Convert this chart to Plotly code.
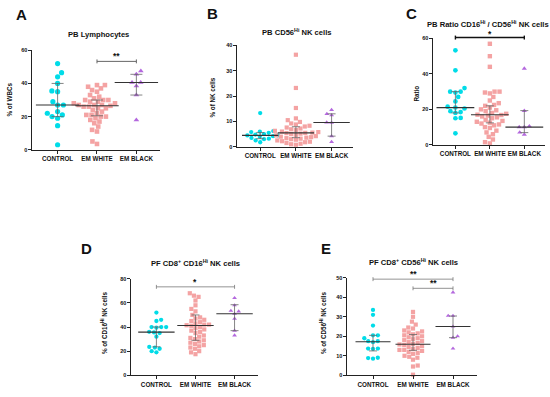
import numpy as np
import plotly.graph_objects as go

W, H = 550, 397
GROUPS = ["CONTROL", "EM WHITE", "EM BLACK"]
COLORS = ["#00DCE8", "#F4A3A3", "#B468DE"]
SYMBOLS = ["circle", "square", "triangle-up"]

# ---------------- data ----------------
# Panel A  PB Lymphocytes (% of WBCs)
a_control = [52, 46.5, 44, 40, 35.5, 35, 29, 27, 27, 23, 22, 21, 20, 19, 14.5, 3]
a_white = [39, 39, 38, 37, 36, 35, 33, 32, 31, 30, 30, 30, 29, 29, 28, 28, 27, 27, 27,
           26.5, 26, 26, 25, 25, 24, 23, 22, 21, 21, 20, 20, 19, 18, 17, 16, 14, 12, 11, 5, 3.5]
a_black = [47.5, 45.5, 40.6, 40.6, 38.5, 33, 18]
a_median = [27, 26.5, 40.6]
a_q1 = [20, 20.5, 33]
a_q3 = [40, 30, 45.5]

# Panel B  PB CD56Hi NK cells (% of NK cells)
b_control = [13.3, 6.2, 6, 5.8, 5.5, 5, 4.8, 4.5, 4.5, 4.2, 4, 3.5, 3.2, 3, 2.5, 1.8]
b_white = [36.3, 23.2, 15.3, 11.2, 10.5, 9.8, 9.2, 8.8, 8.3, 8, 7.6, 7.2, 6.9, 6.6, 6.3, 6,
           5.8, 5.6, 5.5, 5.4, 5.2, 5, 4.7, 4.5, 4.2, 4, 3.8, 3.6, 3.4, 3.2, 3, 2.8, 2.5,
           2.2, 2, 1.8, 1.5, 1.2, 1, 0.8]
b_black = [14.5, 13, 12.5, 9.6, 9.5, 4.2, 1.9]
b_median = [4.5, 5.5, 9.6]
b_q1 = [3.2, 3.6, 4.2]
b_q3 = [5.6, 7.9, 13]

# Panel C  PB Ratio CD16Hi / CD56Hi NK cells
c_control = [53.3, 42, 32, 30, 30, 29.5, 27, 24.5, 21.5, 21, 20.5, 19, 18.5, 18, 15.2, 15, 6.5]
c_white = [57, 50, 44, 30, 30, 29.5, 29, 27, 25, 23.5, 22.5, 22, 21, 20, 19.5, 19, 18, 17.5,
           17, 16.8, 16.5, 16, 15.5, 15, 14, 13.5, 13, 12.5, 12, 11.5, 11, 10, 9.5, 8, 7, 6,
           4.5, 3, 1.5, 0.8]
c_black = [43, 19.2, 10.5, 10, 10, 7, 5.8]
c_median = [21, 17, 10]
c_q1 = [18, 12.4, 6.9]
c_q3 = [30, 22, 19.3]

# Panel D  PF CD8+ CD16Hi NK cells (% of CD16Hi NK cells)
d_control = [52, 46, 45, 40, 40, 40, 39.5, 36, 35.5, 35, 32, 23.5, 23, 22, 20, 19]
d_white = [68, 66, 65, 62, 58, 55, 53, 50, 48, 47, 46, 45, 44, 43, 42, 42, 41.5, 41, 40, 39,
           38, 37, 36, 35, 33, 32, 31, 30, 29, 28, 27, 26, 25, 24, 23, 22, 20, 19, 17.5]
d_black = [64, 58, 53.5, 53, 51, 47, 37, 33]
d_median = [35.8, 41.3, 51]
d_q1 = [23.6, 29, 37]
d_q3 = [40, 50, 58.5]

# Panel E  PF CD8+ CD56Hi NK cells (% of CD56Hi NK cells)
e_control = [33.5, 31, 25.5, 20.5, 20.5, 19, 17.5, 17.5, 17, 13.7, 13.7, 13.5, 9, 8.8, 8.5]
e_white = [32.5, 30, 27.5, 26, 24.5, 24, 23, 22.5, 22, 21.5, 21, 20.5, 20, 19.5, 19, 18.5,
           18, 17.5, 17, 16.5, 16, 15.8, 15.5, 15, 14.5, 14, 13.5, 13, 13, 12.5, 12, 11.5,
           11, 10, 9.5, 9, 8, 5, 4.5, 0.3]
e_black = [42.5, 30.5, 30.5, 25, 20, 19.3, 13.7]
e_median = [17.2, 15.9, 25]
e_q1 = [12.5, 12.8, 19.3]
e_q3 = [20.5, 20.9, 30.4]

# ---------------- layout of panels (pixel boxes) ----------------
XR = [-0.65, 2.6]
panels = [
    dict(letter="A", series=[a_control, a_white, a_black], med=a_median, q1=a_q1, q3=a_q3,
         box=(32, 160, 48, 149), yr=60, ticks=[0, 20, 40, 60], msize=[5.2, 4.6, 5.0],
         title="PB Lymphocytes", tpos=(98, 32), ylab="% of WBCs", ylpos=(10, 98),
         lpos=(21, 12), medw=31, capw=6,
         brackets=[(1, 2, 53.3, 1.5, "**", "#666", 1, 1.5)]),
    dict(letter="B", series=[b_control, b_white, b_black], med=b_median, q1=b_q1, q3=b_q3,
         box=(237, 353, 43, 146), yr=40, ticks=[0, 10, 20, 30, 40], msize=[4.3, 4.2, 4.3],
         title="PB CD56<sup>Hi</sup> NK cells", tpos=(296, 29), ylab="% of NK cells",
         ylpos=(213, 96), lpos=(212, 11), medw=26, capw=4, brackets=[]),
    dict(letter="C", series=[c_control, c_white, c_black], med=c_median, q1=c_q1, q3=c_q3,
         box=(433, 545, 36, 144), yr=60, ticks=[0, 20, 40, 60], msize=[4.7, 4.4, 4.5],
         title="PB Ratio CD16<sup>Hi</sup> / CD56<sup>Hi</sup> NK cells", tpos=(488, 21),
         ylab="Ratio", ylpos=(417, 92), lpos=(411, 11), medw=27, capw=4,
         brackets=[(0, 2, 60.5, 1, "*", "#111", 1.4, 3.5)]),
    dict(letter="D", series=[d_control, d_white, d_black], med=d_median, q1=d_q1, q3=d_q3,
         box=(131, 258, 280, 378), yr=80, ticks=[0, 20, 40, 60, 80], msize=[4.3, 4.2, 4.2],
         title="PF CD8<sup>+</sup> CD16<sup>Hi</sup> NK cells", tpos=(195, 264),
         ylab="% of CD16<sup>Hi</sup> NK cells", ylpos=(104, 325), lpos=(86, 249),
         medw=26, capw=4, brackets=[(0, 2, 73.3, 1, "*", "#777", 0.8, 2)]),
    dict(letter="E", series=[e_control, e_white, e_black], med=e_median, q1=e_q1, q3=e_q3,
         box=(347, 477, 279, 378), yr=50, ticks=[0, 10, 20, 30, 40, 50], msize=[4.3, 4.2, 4.2],
         title="PF CD8<sup>+</sup> CD56<sup>Hi</sup> NK cells", tpos=(413, 263),
         ylab="% of CD56<sup>Hi</sup> NK cells", ylpos=(323, 325), lpos=(326, 249),
         medw=25, capw=4,
         brackets=[(0, 2, 49.3, 1, "**", "#777", 0.8, 1.5),
                   (1, 2, 44.6, 1.5, "**", "#777", 0.8, 1.5)]),
]


def swarm(vals, ppu, d):
    """Beeswarm x offsets (pixels) for values with y scale ppu px/unit."""
    vals = np.asarray(vals, float)
    order = np.argsort(vals, kind="stable")
    placed = []
    offs = np.zeros(len(vals))
    for k, i in enumerate(order):
        y = vals[i] * ppu
        forb = []
        for (px_, py_) in placed:
            dy = y - py_
            if abs(dy) < d:
                dx = np.sqrt(d * d - dy * dy)
                forb.append((px_ - dx, px_ + dx))
        cands = [0.0] + [a for iv in forb for a in iv]
        sgn = 1 if k % 2 == 0 else -1
        cands.sort(key=lambda c: (round(abs(c), 6), -sgn * np.sign(c)))
        chosen = 0.0
        for c in cands:
            if all(not (lo + 1e-6 < c < hi - 1e-6) for lo, hi in forb):
                chosen = c
                break
        placed.append((chosen, y))
        offs[i] = chosen
    return offs


FONT = "Liberation Sans, Arial, sans-serif"
fig = go.Figure()
layout = {}
annotations = []
shapes = []


def ann(text, xp, yp, size, angle=0, yanchor="middle"):
    return dict(text=text, x=xp, y=yp, xref="paper", yref="paper", showarrow=False,
                xanchor="center", yanchor=yanchor, textangle=angle,
                font=dict(family=FONT, size=size, color="#111", weight="bold"))


for n, p in enumerate(panels, start=1):
    xs = "" if n == 1 else str(n)
    x0, x1, ytop, ybot = p["box"]
    xppu = (x1 - x0) / (XR[1] - XR[0])
    yppu = (ybot - ytop) / p["yr"]

    def to_paper(cat, val, x0=x0, x1=x1, ytop=ytop, ybot=ybot, yr=p["yr"]):
        px = x0 + (cat - XR[0]) / (XR[1] - XR[0]) * (x1 - x0)
        py = ybot - val / yr * (ybot - ytop)
        return px / W, 1 - py / H

    for g, vals in enumerate(p["series"]):
        offs = swarm(vals, yppu, p["msize"][g] + 0.6)
        fig.add_trace(go.Scatter(
            x=g + offs / xppu, y=vals, mode="markers", xaxis="x" + xs, yaxis="y" + xs,
            marker=dict(symbol=SYMBOLS[g], size=p["msize"][g], color=COLORS[g], line=dict(width=0)),
            cliponaxis=False, showlegend=False, hoverinfo="y"))
    med = np.array(p["med"]); q1 = np.array(p["q1"]); q3 = np.array(p["q3"])
    fig.add_trace(go.Scatter(
        x=[0, 1, 2], y=med, mode="markers", xaxis="x" + xs, yaxis="y" + xs,
        marker=dict(symbol="line-ew", size=p["medw"], line=dict(width=1.1, color="#333")),
        error_y=dict(type="data", array=q3 - med, arrayminus=med - q1, color="#666",
                     thickness=0.8, width=p["capw"]),
        cliponaxis=False, showlegend=False, hoverinfo="skip"))

    axcommon = dict(showline=True, linecolor="#222", linewidth=1.1, ticks="outside",
                    ticklen=3, tickwidth=1, tickcolor="#222", showgrid=False, zeroline=False)
    layout["xaxis" + xs] = dict(axcommon, domain=[x0 / W, x1 / W], range=XR, anchor="y" + xs,
                                tickvals=[0, 1, 2], ticktext=GROUPS, tickangle=0,
                                tickfont=dict(family=FONT, size=6.3, color="#111", weight="bold"))
    layout["yaxis" + xs] = dict(axcommon, domain=[1 - ybot / H, 1 - ytop / H], range=[0, p["yr"]],
                                anchor="x" + xs, tickvals=p["ticks"], ticklen=2.5,
                                tickfont=dict(family=FONT, size=5.5, color="#111", weight="bold"))

    annotations.append(ann(p["letter"], p["lpos"][0] / W, 1 - p["lpos"][1] / H, 15))
    annotations.append(ann(p["title"], p["tpos"][0] / W, 1 - p["tpos"][1] / H, 7.6))
    annotations.append(ann(p["ylab"], p["ylpos"][0] / W, 1 - p["ylpos"][1] / H, 6.3, -90))

    for (ca, cb, yv, sx, stars, col, lw, drop) in p["brackets"]:
        xa, yb = to_paper(ca, yv)
        xb, _ = to_paper(cb, yv)
        shapes.append(dict(type="line", xref="paper", yref="paper", x0=xa, x1=xb, y0=yb, y1=yb,
                           line=dict(color=col, width=lw)))
        for xe in (xa, xb):
            shapes.append(dict(type="line", xref="paper", yref="paper", x0=xe, x1=xe,
                               y0=yb - 2 / H, y1=yb + 2 / H, line=dict(color=col, width=lw)))
        sxp, _ = to_paper(sx, yv)
        annotations.append(ann(stars, sxp, yb - drop / H, 8.5, yanchor="bottom"))

fig.update_layout(width=W, height=H, margin=dict(l=0, r=0, t=0, b=0),
                  paper_bgcolor="white", plot_bgcolor="white",
                  annotations=annotations, shapes=shapes, **layout)
fig.write_html("out.html", config={"displayModeBar": False},
               post_script="document.body.style.margin='0';")
